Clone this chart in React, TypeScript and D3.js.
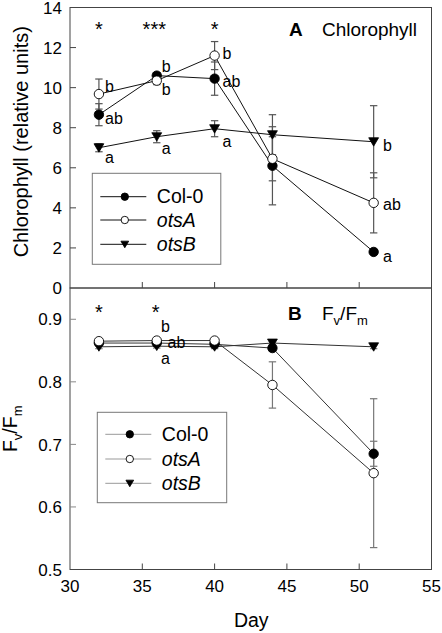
import React from "react";
import * as d3 from "d3";

const days = [32, 36, 40, 44, 51];

const chlCol0 = [8.65, 10.6, 10.45, 6.1, 1.8];
const chlCol0Err = [0.55, 0.15, 0.83, 1.95, 0.1];
const chlOtsA = [9.68, 10.35, 11.6, 6.45, 4.25];
const chlOtsAErr = [0.75, 0.2, 0.7, 1.1, 1.5];
const chlOtsB = [7.0, 7.55, 7.95, 7.65, 7.3];
const chlOtsBErr = [0.2, 0.3, 0.4, 1.0, 1.8];

const fvCol0 = [0.862, 0.862, 0.86, 0.854, 0.685];
const fvCol0Err = [0.003, 0.003, 0.003, 0.005, 0.02];
const fvOtsA = [0.865, 0.866, 0.866, 0.795, 0.654];
const fvOtsAErr = [0.003, 0.003, 0.003, 0.037, 0.119];
const fvOtsB = [0.856, 0.857, 0.856, 0.862, 0.856];
const fvOtsBErr = [0.003, 0.003, 0.003, 0.003, 0.003];

const chlTicks = [0, 2, 4, 6, 8, 10, 12, 14];
const fvTicks = [0.5, 0.6, 0.7, 0.8, 0.9];
const dayTicks = [30, 35, 40, 45, 50, 55];

const legendNames = ["Col-0", "otsA", "otsB"];
const legendItalic = [false, true, true];

// annotation letters: [day position, value position, text]
const chlLetters: [number, number, string][] = [
  [32.42, 9.8, "b"], [32.42, 8.2, "ab"], [32.42, 6.25, "a"],
  [36.35, 10.8, "b"], [36.35, 9.65, "b"], [36.35, 6.7, "a"],
  [40.55, 11.45, "b"], [40.55, 10.05, "ab"], [40.55, 7.05, "a"],
  [51.65, 6.85, "b"], [51.65, 3.9, "ab"], [51.65, 1.3, "a"],
];
const chlStars: [number, number, string][] = [
  [32, 12.58, "*"], [35.83, 12.58, "***"], [40, 12.58, "*"],
];
const fvLetters: [number, number, string][] = [
  [36.3, 0.879, "b"], [36.75, 0.854, "ab"], [36.3, 0.8285, "a"],
];
const fvStars: [number, number, string][] = [
  [32, 0.9, "*"], [35.93, 0.9, "*"],
];

const FONT = "Arial, 'Liberation Sans', Helvetica, sans-serif";

const left = 70, right = 431.5;
const topA = 7.5, botA = 288, botB = 569.5;

const x = d3.scaleLinear().domain([30, 55]).range([left, right]);
const yA = d3.scaleLinear().domain([0, 14]).range([botA, topA]);
const yB = d3.scaleLinear().domain([0.5, 0.95]).range([botB, botA]);

type Kind = "filled" | "open" | "tri";

function Marker({ cx, cy, kind, r = 4.7 }: { cx: number; cy: number; kind: Kind; r?: number }) {
  if (kind === "tri") {
    const w = r * 1.05, h = r * 0.85;
    const pts = `${cx - w},${cy - h} ${cx + w},${cy - h} ${cx},${cy + h * 1.1}`;
    return <polygon points={pts} fill="#000" stroke="#000" strokeWidth={0.8} />;
  }
  return (
    <circle cx={cx} cy={cy} r={r} fill={kind === "filled" ? "#000" : "#fff"} stroke="#000" strokeWidth={0.9} />
  );
}

function Series({ vals, y, lineColor }: any) {
  const line = d3.line<number>().x((_, i) => x(days[i])).y((v) => y(v));
  return <path d={line(vals) || ""} fill="none" stroke={lineColor} strokeWidth={1} />;
}

function ErrBars({ vals, errs, y, color }: any) {
  return (
    <g stroke={color} strokeWidth={1.2}>
      {vals.map((v: number, i: number) => {
        const cx = x(days[i]);
        const y1 = y(v - errs[i]), y2 = y(v + errs[i]);
        return (
          <g key={i}>
            <line x1={cx} x2={cx} y1={y1} y2={y2} />
            <line x1={cx - 3.7} x2={cx + 3.7} y1={y1} y2={y1} />
            <line x1={cx - 3.7} x2={cx + 3.7} y1={y2} y2={y2} />
          </g>
        );
      })}
    </g>
  );
}

function Markers({ vals, y, kind }: any) {
  return (
    <g>
      {vals.map((v: number, i: number) => (
        <Marker key={i} cx={x(days[i])} cy={y(v)} kind={kind} />
      ))}
    </g>
  );
}

function Legend({ x0, y0, w, h, rows, lineColor, borderColor }: any) {
  const kinds: Kind[] = ["filled", "open", "tri"];
  return (
    <g>
      <rect x={x0} y={y0} width={w} height={h} fill="#fff" stroke={borderColor} strokeWidth={1} />
      {legendNames.map((n, i) => (
        <g key={n}>
          <line x1={x0 + 8} x2={x0 + 54} y1={rows[i]} y2={rows[i]} stroke={lineColor} strokeWidth={1} />
          <Marker cx={x0 + 32.5} cy={rows[i]} kind={kinds[i]} r={3.7} />
          <text x={x0 + 64.5} y={rows[i] + 6.5} fontSize={19.5} fontStyle={legendItalic[i] ? "italic" : "normal"} fill="#000">
            {n}
          </text>
        </g>
      ))}
    </g>
  );
}

export default function App() {
  const frameColor = "#444";
  return (
    <svg width={442} height={633} style={{ position: "absolute", left: 0, top: 0, background: "#fff" }} fontFamily={FONT}>
      <rect x={0} y={0} width={442} height={633} fill="#fff" />
      <rect x={left} y={topA} width={right - left} height={botA - topA} fill="none" stroke={frameColor} strokeWidth={1} />
      <rect x={left} y={botA} width={right - left} height={botB - botA} fill="none" stroke={frameColor} strokeWidth={1} />

      {chlTicks.map((t) => (
        <g key={"ya" + t}>
          {t > 0 && t < 14 && <line x1={left} x2={left + 6} y1={yA(t)} y2={yA(t)} stroke={frameColor} />}
          <text x={62} y={yA(t)} dy="0.36em" textAnchor="end" fontSize={17}>{t}</text>
        </g>
      ))}
      {dayTicks.slice(1, -1).map((t) => (
        <line key={"xa" + t} x1={x(t)} x2={x(t)} y1={botA} y2={botA - 6} stroke={frameColor} />
      ))}

      {fvTicks.map((t) => (
        <g key={"yb" + t}>
          {t > 0.5 && <line x1={left} x2={left + 6} y1={yB(t)} y2={yB(t)} stroke="#888" />}
          <text x={62} y={yB(t)} dy="0.36em" textAnchor="end" fontSize={17}>{t.toFixed(1)}</text>
        </g>
      ))}
      {dayTicks.map((t) => (
        <g key={"xb" + t}>
          {t > 30 && t < 55 && <line x1={x(t)} x2={x(t)} y1={botB} y2={botB - 6} stroke={frameColor} />}
          <text x={x(t)} y={592} textAnchor="middle" fontSize={17}>{t}</text>
        </g>
      ))}

      <text transform={`translate(27.5, ${(topA + botA) / 2 - 6}) rotate(-90)`} textAnchor="middle" fontSize={20}>
        Chlorophyll (relative units)
      </text>
      <text transform={`translate(16.5, ${(botA + botB) / 2}) rotate(-90)`} textAnchor="middle" fontSize={19.5}>
        F<tspan fontSize={13} dy={5}>v</tspan><tspan dy={-5}>/F</tspan><tspan fontSize={13} dy={5}>m</tspan>
      </text>
      <text x={(left + right) / 2 + 0.5} y={627} textAnchor="middle" fontSize={19.5}>Day</text>

      <text x={289} y={36} fontSize={19} fontWeight="bold">A</text>
      <text x={322} y={36} fontSize={19}>Chlorophyll</text>
      <text x={288} y={320} fontSize={19} fontWeight="bold">B</text>
      <text x={322} y={320} fontSize={19}>
        F<tspan fontSize={13} dy={5}>v</tspan><tspan dy={-5}>/F</tspan><tspan fontSize={13} dy={5}>m</tspan>
      </text>

      <Series vals={chlCol0} y={yA} lineColor="#111" />
      <Series vals={chlOtsA} y={yA} lineColor="#111" />
      <Series vals={chlOtsB} y={yA} lineColor="#111" />
      <ErrBars vals={chlCol0} errs={chlCol0Err} y={yA} color="#555" />
      <ErrBars vals={chlOtsA} errs={chlOtsAErr} y={yA} color="#555" />
      <ErrBars vals={chlOtsB} errs={chlOtsBErr} y={yA} color="#555" />
      <Markers vals={chlCol0} y={yA} kind="filled" />
      <Markers vals={chlOtsB} y={yA} kind="tri" />
      <Markers vals={chlOtsA} y={yA} kind="open" />

      {chlLetters.map(([d, v, t], i) => (
        <text key={"la" + i} x={x(d)} y={yA(v)} fontSize={16}>{t}</text>
      ))}
      {chlStars.map(([d, v, t], i) => (
        <text key={"sa" + i} x={x(d)} y={yA(v)} fontSize={20} textAnchor="middle">{t}</text>
      ))}

      <Legend x0={92.3} y0={173.3} w={128.5} h={91} rows={[196.7, 220, 244.3]} lineColor="#111" borderColor="#777" />

      <Series vals={fvCol0} y={yB} lineColor="#333" />
      <Series vals={fvOtsA} y={yB} lineColor="#333" />
      <Series vals={fvOtsB} y={yB} lineColor="#333" />
      <ErrBars vals={fvCol0} errs={fvCol0Err} y={yB} color="#777" />
      <ErrBars vals={fvOtsA} errs={fvOtsAErr} y={yB} color="#777" />
      <ErrBars vals={fvOtsB} errs={fvOtsBErr} y={yB} color="#777" />
      <Markers vals={fvCol0} y={yB} kind="filled" />
      <Markers vals={fvOtsB} y={yB} kind="tri" />
      <Markers vals={fvOtsA} y={yB} kind="open" />

      {fvLetters.map(([d, v, t], i) => (
        <text key={"lb" + i} x={x(d)} y={yB(v)} fontSize={16}>{t}</text>
      ))}
      {fvStars.map(([d, v, t], i) => (
        <text key={"sb" + i} x={x(d)} y={yB(v)} fontSize={20} textAnchor="middle">{t}</text>
      ))}

      <Legend x0={97.3} y0={412.3} w={129.4} h={90.4} rows={[434.3, 459, 483.3]} lineColor="#999" borderColor="#777" />
    </svg>
  );
}
